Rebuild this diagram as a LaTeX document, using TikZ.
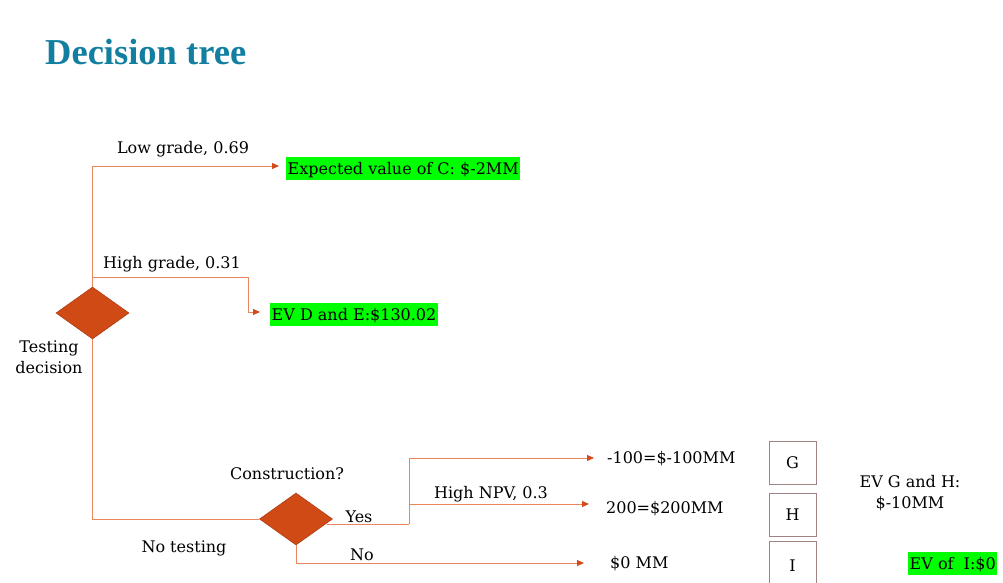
\documentclass[tikz,border=0pt]{standalone}
\usepackage{fontspec}
\setmainfont{DejaVu Serif}
\newfontfamily\titlefont{Liberation Serif}
\usetikzlibrary{shapes.geometric,arrows.meta}

\definecolor{linec}{HTML}{E8865E}
\definecolor{tipc}{HTML}{D24B18}
\definecolor{diafill}{HTML}{D04A16}
\definecolor{diaedge}{HTML}{B03E12}
\definecolor{hl}{HTML}{00FF00}
\definecolor{boxedge}{HTML}{A08484}
\definecolor{titlec}{HTML}{137FA0}

\begin{document}
\begin{tikzpicture}[x=1pt,y=-1pt,
  every node/.style={font=\fontsize{16}{21}\selectfont, inner sep=0pt},
  conn/.style={draw=linec, line width=0.9pt},
  arr/.style={conn, -{Triangle[length=7pt,width=6pt,color=tipc]}},
  choice/.style={diamond, fill=diafill, draw=diaedge, line width=0.6pt,
    minimum width=73pt, minimum height=52pt, inner sep=0pt},
  hilite/.style={fill=hl, inner xsep=1.5pt, inner ysep=2pt,
    text height=15pt, text depth=4pt, anchor=base west},
  leafbox/.style={draw=boxedge, line width=1pt, minimum width=47pt,
    minimum height=43pt},
  lbl/.style={anchor=base}]

\clip (0,0) rectangle (1003,583);

% title
\node[anchor=base west, font=\titlefont\bfseries\fontsize{36.5}{40}\selectfont,
  text=titlec] (title) at (45,65) {Decision tree};

% decision nodes
\node[choice] (d1) at (92.5,313) {};
\node[choice] (d2) at (296,519) {};

% outcomes of the testing branch
\node[hilite] (evc) at (286,174) {Expected value of C: \$-2MM};
\node[hilite] (evde) at (270,320) {EV D and E:\$130.02};

% branch labels
\node[lbl] (low) at (183,153) {Low grade, 0.69};
\node[lbl] (high) at (172,268) {High grade, 0.31};
\node[align=center, anchor=base] (test) at (49,373) {Testing\\decision};
\node[lbl] (cons) at (287,479) {Construction?};
\node[lbl] (yes) at (359,522) {Yes};
\node[lbl] (npv) at (491,498) {High NPV, 0.3};
\node[lbl] (notest) at (184,552) {No testing};
\node[lbl] (no) at (362,560) {No};

% payoffs
\node[anchor=base west] (v1) at (607,463) {-100=\$-100MM};
\node[anchor=base west] (v2) at (606,513) {200=\$200MM};
\node[anchor=base west] (v3) at (610,568) {\$0 MM};

% scenario boxes
\node[leafbox] (bg) at (792.5,462.5) {G};
\node[leafbox] (bh) at (792.5,515) {H};
\node[leafbox, minimum height=50pt] (bi) at (792.5,566) {I};

\node[align=center, anchor=base] (evgh) at (910,508) {EV G and H:\\\$-10MM};
\node[hilite] (evi) at (908,569) {EV of\ \ I:\$0};

% junction points and arrow ends
\coordinate (hg) at (92.5,277);
\coordinate (hgk) at (248,277);
\coordinate (ys) at (327,524);
\coordinate (yk) at (409,524);
\coordinate (nk) at (409,504);
\coordinate (ae1) at (594,458);
\coordinate (ae2) at (589,504);
\coordinate (ae3) at (584,563);
\coordinate (aec) at (279,166);
\coordinate (aede) at (260,312);

% connectors
\draw[arr] (d1.north) |- (aec);
\draw[arr] (hg) -- (hgk) |- (aede);
\draw[conn] (d1.south) |- (d2.west);
\draw[conn] (ys) -- (yk);
\draw[arr] (yk) |- (ae1);
\draw[arr] (nk) -- (ae2);
\draw[arr] (d2.south) |- (ae3);
\end{tikzpicture}
\end{document}
